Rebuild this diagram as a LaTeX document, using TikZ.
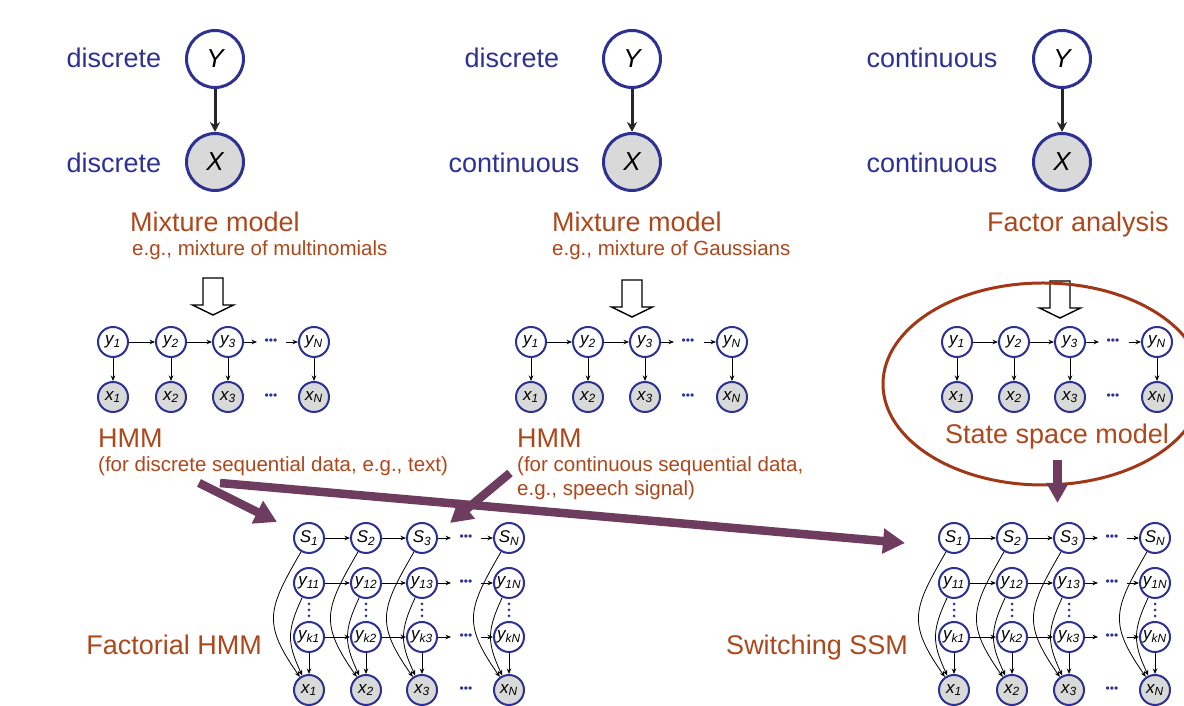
\documentclass[tikz,border=0pt]{standalone}
\usepackage{fontspec}
\setmainfont{Liberation Sans}
\usetikzlibrary{arrows.meta}

\definecolor{nodeblue}{RGB}{46,49,146}
\definecolor{labelbrown}{RGB}{172,72,28}
\definecolor{ovalred}{RGB}{160,56,24}
\definecolor{obsgray}{RGB}{217,217,217}
\definecolor{bigarrow}{RGB}{110,60,95}

\pgfdeclarelayer{behind}
\pgfsetlayers{behind,main}

\tikzset{
  hid/.style={circle, draw=nodeblue, line width=2pt, fill=white, minimum size=30pt, inner sep=0pt, font=\fontsize{17}{17}\selectfont\itshape},
  obs/.style={hid, fill=obsgray},
  bighid/.style={circle, draw=nodeblue, line width=3pt, fill=white, minimum size=57pt, inner sep=0pt, font=\fontsize{26}{26}\selectfont\itshape},
  bigobs/.style={bighid, fill=obsgray},
  kind/.style={text=nodeblue, inner sep=0pt, font=\fontsize{27}{27}\selectfont},
  modelname/.style={text=labelbrown, inner sep=0pt, anchor=west, font=\fontsize{27}{27}\selectfont},
  note/.style={text=labelbrown, inner sep=0pt, anchor=west, font=\fontsize{20.5}{20.5}\selectfont},
  link/.style={line width=0.8pt, -{Stealth[length=5.5pt,width=4.5pt]}},
  biglink/.style={line width=3pt, black!85, -{Stealth[length=10pt,width=10pt]}},
  hdots/.style={text=nodeblue, inner sep=0pt, font=\fontsize{12}{12}\selectfont},
  vdot/.style={fill=nodeblue},
  hollow/.style={draw=black, line width=1.4pt, fill=white},
  fat/.style={draw=bigarrow, line width=8.5pt, -{Triangle[length=22pt,width=24pt]}},
}

\begin{document}
\begin{tikzpicture}[x=1pt,y=1pt]
\useasboundingbox (0,0) rectangle (1184,706);

% top row: the three basic models
\node[bighid] (my1) at (215,647) {Y};
\node[bigobs] (mx1) at (215,544) {X};
\node[kind] (ky1) at (114,648) {discrete};
\node[kind] (kx1) at (114,543) {discrete};
\draw[biglink] (my1) -- (mx1);
\node[modelname] (name1) at (130,484) {Mixture model};
\node[note] (eg1) at (132,456) {e.g., mixture of multinomials};

\node[bighid] (my2) at (632,647) {Y};
\node[bigobs] (mx2) at (632,544) {X};
\node[kind] (ky2) at (512,648) {discrete};
\node[kind] (kx2) at (514,543) {continuous};
\draw[biglink] (my2) -- (mx2);
\node[modelname] (name2) at (552,484) {Mixture model};
\node[note] (eg2) at (552,456) {e.g., mixture of Gaussians};

\node[bighid] (my3) at (1062,647) {Y};
\node[bigobs] (mx3) at (1062,544) {X};
\node[kind] (ky3) at (932,648) {continuous};
\node[kind] (kx3) at (932,543) {continuous};
\draw[biglink] (my3) -- (mx3);
\node[modelname] (name3) at (987,481) {Factor analysis};

% hollow arrows
\foreach \x/\t in {213/391, 632/389, 1060/388} {
  \draw[hollow] (\x-10,\t+37) -- (\x+10,\t+37) -- (\x+10,\t+10) -- (\x+20.5,\t+10)
    -- (\x,\t) -- (\x-20.5,\t+10) -- (\x-10,\t+10) -- cycle;
}

% state space model oval
\draw[ovalred, line width=3pt] (1043,322) ellipse [x radius=160, y radius=101];

% chains
\foreach \p/\xa/\xb/\xc/\xn/\xd in {a/113/171/228/314/271, b/531/588/645/732/688, c/957/1014/1070/1157/1113} {
  \node[hid] (\p y1) at (\xa,364) {y\textsubscript{1}};
  \node[hid] (\p y2) at (\xb,364) {y\textsubscript{2}};
  \node[hid] (\p y3) at (\xc,364) {y\textsubscript{3}};
  \node[hid] (\p yN) at (\xn,364) {y\textsubscript{N}};
  \node[obs] (\p x1) at (\xa,309) {x\textsubscript{1}};
  \node[obs] (\p x2) at (\xb,309) {x\textsubscript{2}};
  \node[obs] (\p x3) at (\xc,309) {x\textsubscript{3}};
  \node[obs] (\p xN) at (\xn,309) {x\textsubscript{N}};
  \node[hdots] (\p dy) at (\xd,364) {•••};
  \node[hdots] (\p dx) at (\xd,309) {•••};
  \coordinate (\p e3) at ([xshift=13pt]\p y3.east);
  \coordinate (\p eN) at ([xshift=-12pt]\p yN.west);
  \draw[link] (\p y1) -- (\p y2);
  \draw[link] (\p y2) -- (\p y3);
  \draw[link] (\p y3) -- (\p e3);
  \draw[link] (\p eN) -- (\p yN);
  \foreach \i in {1,2,3,N} \draw[link] (\p y\i) -- (\p x\i);
}

\node[modelname] (hmm1) at (98,268) {HMM};
\node[note] (for1) at (98,240) {(for discrete sequential data, e.g., text)};
\node[modelname] (hmm2) at (517,268) {HMM};
\node[note] (for2) at (517,240) {(for continuous sequential data,};
\node[note] (for3) at (517,216) {e.g., speech signal)};
\node[modelname] (ssmname) at (945,269) {State space model};

% factorial HMM and switching SSM
\foreach \p/\xa/\xb/\xc/\xn/\xd in {f/309/366/422/509/466, w/954/1012/1069/1155/1112} {
  \foreach \i/\x in {1/\xa, 2/\xb, 3/\xc, N/\xn} {
    \node[hid] (\p s\i) at (\x,168) {S\textsubscript{\i}};
    \node[hid] (\p u\i) at (\x,123) {y\textsubscript{1\i}};
    \foreach \d in {90,96,102} \fill[vdot] (\x,\d) circle (1.5);
    \node[hid] (\p k\i) at (\x,69) {y\textsubscript{k\i}};
    \node[obs] (\p x\i) at (\x,16) {x\textsubscript{\i}};
    \draw[link] (\p k\i) -- (\p x\i);
    \begin{pgfonlayer}{behind}
      \draw[link] (\p s\i) to[out=240,in=125,looseness=1.35] (\p x\i);
      \draw[link] (\p u\i) to[out=245,in=115,looseness=1.2] (\p x\i);
    \end{pgfonlayer}
  }
  \foreach \r/\yy in {s/168, u/123, k/69} {
    \node[hdots] (\p d\r) at (\xd,\yy) {•••};
    \coordinate (\p\r e3) at ([xshift=13pt]\p\r3.east);
    \coordinate (\p\r eN) at ([xshift=-12pt]\p\r N.west);
    \draw[link] (\p\r1) -- (\p\r2);
    \draw[link] (\p\r2) -- (\p\r3);
    \draw[link] (\p\r3) -- (\p\r e3);
    \draw[link] (\p\r eN) -- (\p\r N);
  }
  \node[hdots] (\p dx) at (\xd,16) {•••};
}

\node[modelname, anchor=base east] (fhmm) at (262,51) {Factorial HMM};
\node[modelname, anchor=base east] (sssm) at (908,51) {Switching SSM};

% purple arrows
\coordinate (from1) at (199,223);
\coordinate (to1) at (277,184);
\coordinate (from2) at (220,223);
\coordinate (to2) at (905,163);
\coordinate (from3) at (510,233);
\coordinate (to3) at (450,183);
\coordinate (from4) at (1057.5,246);
\coordinate (to4) at (1057.5,203);
\draw[fat] (from1) -- (to1);
\draw[fat] (from2) -- (to2);
\draw[fat] (from3) -- (to3);
\draw[fat, line width=9pt, -{Triangle[length=20pt,width=21pt]}] (from4) -- (to4);

\end{tikzpicture}
\end{document}
